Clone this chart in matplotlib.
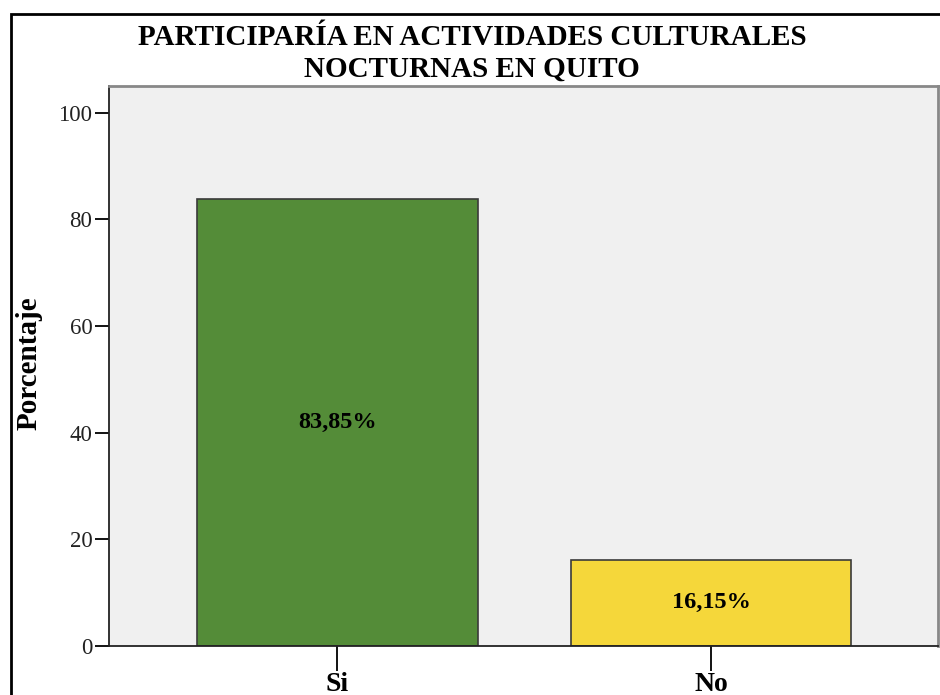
import matplotlib
matplotlib.use("Agg")
import matplotlib.pyplot as plt
from matplotlib.patches import Rectangle

categories = ["Si", "No"]
values = [83.85, 16.15]
labels = ["83,85%", "16,15%"]
colors = ["#548C38", "#F5D73A"]
yticks = [0, 20, 40, 60, 80, 100]
title = "PARTICIPARÍA EN ACTIVIDADES CULTURALES\nNOCTURNAS EN QUITO"

serif = ["Liberation Serif", "DejaVu Serif"]

fig = plt.figure(figsize=(9.4, 6.95), dpi=100)
fig.patch.set_facecolor("white")

# outer frame (extends beyond the right/bottom edges as in reference)
fig.patches.append(Rectangle((11/940, -0.1), 1.2, (695-14)/695 + 0.1,
                             transform=fig.transFigure, fill=False,
                             edgecolor="black", linewidth=2))

ax = fig.add_axes([109/940, 49/695, (938-109)/940, (646-86)/695])
ax.set_facecolor("#F0F0F0")
x = list(range(len(categories)))
ax.bar(x, values, width=0.751, color=colors, edgecolor="#3a3a3a", linewidth=1.2, zorder=2)
for xi, v, lab in zip(x, values, labels):
    ax.text(xi, v/2, lab, ha="center", va="center", fontsize=17.5,
            fontweight="bold", family=serif, zorder=3)

ax.set_xlim(-0.61, 1.607)
ax.set_ylim(0, 105)
ax.set_yticks(yticks)
ax.set_yticklabels([str(t) for t in yticks], family=serif, fontsize=16.5, color="#222222")
ax.set_xticks(x)
ax.set_xticklabels(categories, family=serif, fontsize=20, fontweight="bold")
ax.tick_params(axis="y", length=10, width=1.3, direction="out", pad=2)
ax.tick_params(axis="x", length=18, width=1.3, direction="out", pad=1)

for s in ["left", "bottom"]:
    ax.spines[s].set_color("#222222")
    ax.spines[s].set_linewidth(1.3)
for s in ["top", "right"]:
    ax.spines[s].set_color("#888888")
    ax.spines[s].set_linewidth(2)

ax.set_ylabel("Porcentaje", family=serif, fontsize=21, fontweight="bold")
ax.yaxis.set_label_coords((43 - 109) / (938 - 109), 0.505)

fig.text(472/940, 1 - 53/695, title, ha="center", va="center", family=serif,
         fontsize=21, fontweight="bold", linespacing=1.22)

fig.savefig("out.png", dpi=100)
